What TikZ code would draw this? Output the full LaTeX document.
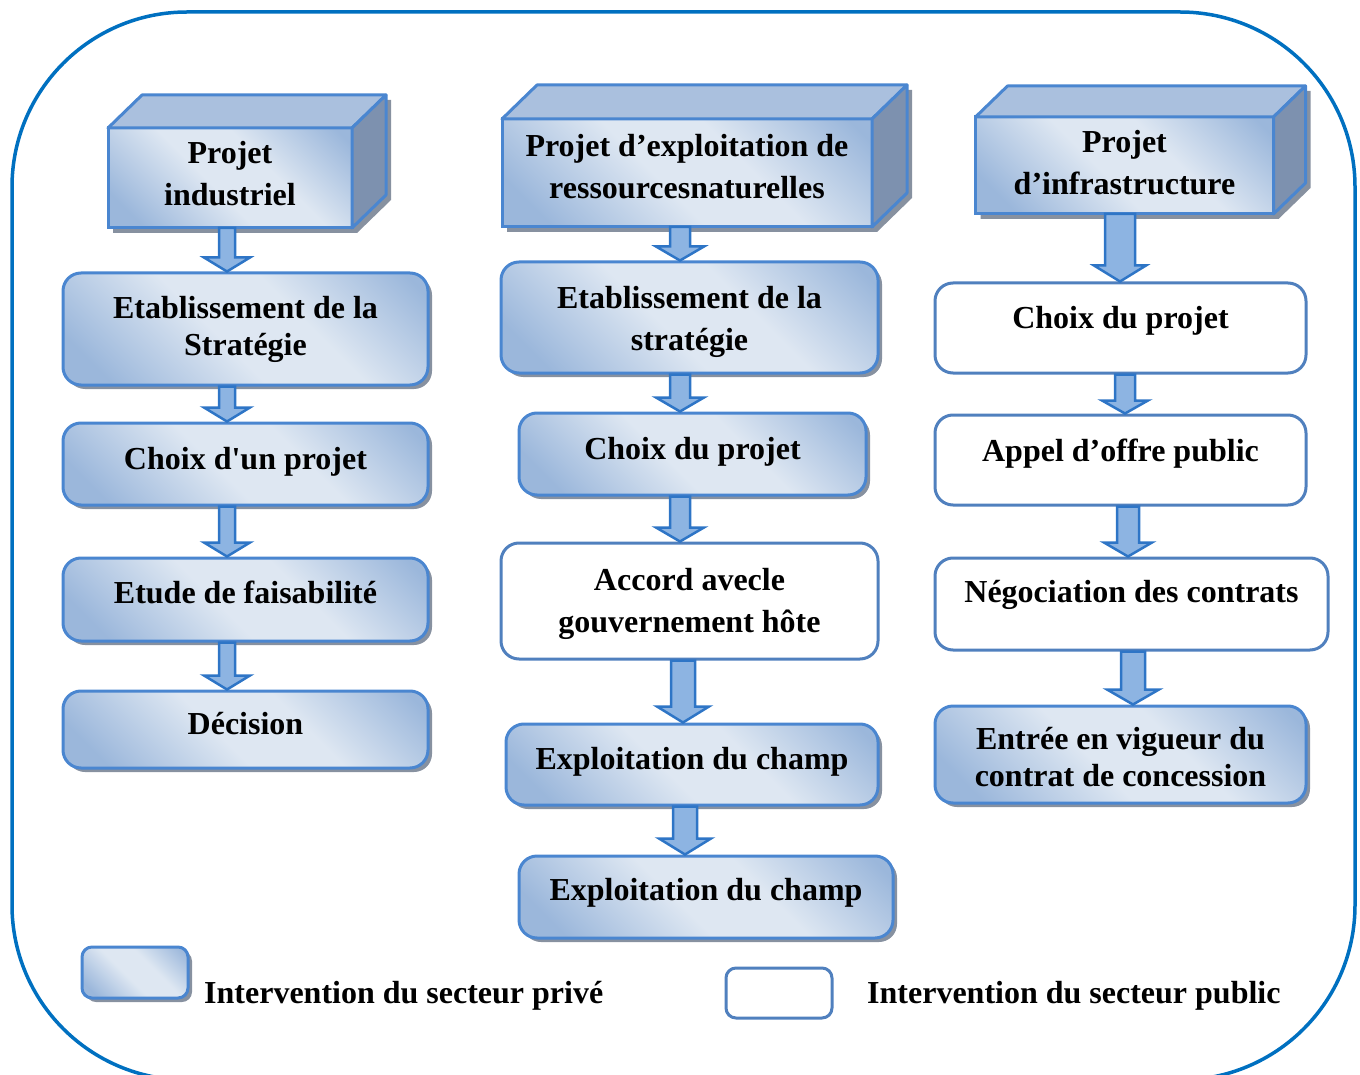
\documentclass[tikz,border=0pt]{standalone}
\usepackage{fontspec}
\setmainfont{Liberation Serif}[Ligatures=TeXOff]
\usetikzlibrary{calc,shadows,backgrounds}
\definecolor{frameblue}{RGB}{0,112,192}
\definecolor{bordblue}{RGB}{74,134,208}
\definecolor{whitebord}{RGB}{80,128,190}
\definecolor{arrowfill}{RGB}{141,180,226}
\definecolor{arrowdraw}{RGB}{46,117,198}
\definecolor{topface}{RGB}{170,192,222}
\definecolor{rightface}{RGB}{125,145,175}
\definecolor{shadowgray}{RGB}{135,145,160}
\definecolor{gdark}{RGB}{155,183,219}
\definecolor{glight}{RGB}{222,231,242}
\pgfdeclarehorizontalshading{glassy}{100bp}{color(0bp)=(gdark); color(22bp)=(gdark); color(45bp)=(glight); color(60bp)=(glight); color(82bp)=(gdark); color(100bp)=(gdark)}
\tikzset{
  txt/.style={font=\bfseries\fontsize{32}{42}\selectfont, align=center, text=black, inner sep=0pt},
  tighttxt/.style={font=\bfseries\fontsize{32}{37}\selectfont},
  privbox/.style={draw=bordblue, line width=3pt, rounded corners=18pt, shading=glassy, shading angle=45,
    drop shadow={shadow xshift=4pt, shadow yshift=-4pt, fill=shadowgray, opacity=1}, inner sep=0pt},
  pubbox/.style={draw=whitebord, line width=3pt, rounded corners=18pt, fill=white, inner sep=0pt},
  cubefront/.style={draw=bordblue, line width=3pt, shading=glassy, shading angle=45, inner sep=0pt, outer sep=0pt},
  cubetop/.style={fill=topface, draw=bordblue, line width=3pt, line join=round},
  cubeside/.style={fill=rightface, draw=bordblue, line width=3pt, line join=round},
  barrowst/.style={fill=arrowfill, draw=arrowdraw, line width=2.5pt, line join=miter},
  frame/.style={draw=frameblue, line width=3.5pt}
}
\newcommand\cubefaces[3]{%
  \filldraw[cubetop] (#1.north west) -- ++(#2,-#3) -- ($(#1.north east)+(#2,-#3)$) -- (#1.north east) -- cycle;
  \filldraw[cubeside] (#1.north east) -- ++(#2,-#3) -- ($(#1.south east)+(#2,-#3)$) -- (#1.south east) -- cycle;
  \begin{pgfonlayer}{background}
    \fill[shadowgray] ($(#1.north west)+(5,5)$) -- ($(#1.north west)+(#2+5,-#3+5)$) -- ($(#1.north east)+(#2+5,-#3+5)$)
      -- ($(#1.south east)+(#2+5,-#3+5)$) -- ($(#1.south east)+(5,5)$) -- ($(#1.south west)+(5,5)$) -- cycle;
  \end{pgfonlayer}
}
% text of a box: [extra style] box name, vertical offset (px, down positive), text
\newcommand\boxtext[4][]{\node[txt,#1] (#2-t) at ($(#2.center)+(0,#3)$) {#4};}
\newcommand\barrow[6]{%
  \draw[barrowst] let \p1=(#1.south), \p2=(#2.north) in
    (#3pt-#4pt,\y1) -- (#3pt+#4pt,\y1) -- (#3pt+#4pt,\y2+#6pt) -- (#3pt+#5pt,\y2+#6pt) -- (#3pt,\y2)
    -- (#3pt-#5pt,\y2+#6pt) -- (#3pt-#4pt,\y2+#6pt) -- cycle;}
\begin{document}
\begin{tikzpicture}[x=1pt,y=-1pt]
\useasboundingbox (0,0) rectangle (1360,1075);
\draw[frame, rounded corners=175pt] (12,12) rectangle (1355,1080);

% column 1
\node[cubefront, minimum width=244pt, minimum height=100pt] (c1) at (230,178) {};
\cubefaces{c1}{34}{33}
\boxtext{c1}{-4}{Projet\\industriel}
\node[privbox, minimum width=365pt, minimum height=112pt] (s1a) at (245.5,329) {};
\boxtext[tighttxt]{s1a}{0}{Etablissement de la\\Stratégie}
\node[privbox, minimum width=365pt, minimum height=82pt] (s1b) at (245.5,464) {};
\boxtext{s1b}{-2}{Choix d'un projet}
\node[privbox, minimum width=365pt, minimum height=83pt] (s1c) at (245.5,599.5) {};
\boxtext{s1c}{-7}{Etude de faisabilité}
\node[privbox, minimum width=365pt, minimum height=77pt] (s1d) at (245.5,729.5) {};
\boxtext{s1d}{-6}{Décision}

% column 2
\node[cubefront, minimum width=370pt, minimum height=108pt] (c2) at (687,173) {};
\cubefaces{c2}{35}{34}
\boxtext{c2}{-6}{Projet d’exploitation de\\ressourcesnaturelles}
\node[privbox, minimum width=377pt, minimum height=111pt] (s2a) at (689.5,317.5) {};
\boxtext{s2a}{4}{Etablissement de la\\stratégie}
\node[privbox, minimum width=347pt, minimum height=82pt] (s2b) at (692.5,454) {};
\boxtext{s2b}{-2}{Choix du projet}
\node[pubbox, minimum width=377pt, minimum height=116pt] (s2c) at (689.5,601) {};
\boxtext{s2c}{3}{Accord avecle\\gouvernement hôte}
\node[privbox, minimum width=372pt, minimum height=81pt] (s2d) at (692,764.5) {};
\boxtext{s2d}{-3}{Exploitation du champ}
\node[privbox, minimum width=374pt, minimum height=82pt] (s2e) at (706,897) {};
\boxtext{s2e}{-4}{Exploitation du champ}

% column 3
\node[cubefront, minimum width=298pt, minimum height=97pt] (c3) at (1124.5,165.5) {};
\cubefaces{c3}{32}{31}
\boxtext{c3}{-3}{Projet\\d’infrastructure}
\node[pubbox, minimum width=371pt, minimum height=90pt] (s3a) at (1120.5,328) {};
\boxtext{s3a}{-7}{Choix du projet}
\node[pubbox, minimum width=371pt, minimum height=90pt] (s3b) at (1120.5,460) {};
\boxtext{s3b}{-6}{Appel d’offre public}
\node[pubbox, minimum width=393pt, minimum height=92pt] (s3c) at (1131.5,604) {};
\boxtext{s3c}{-9}{Négociation des contrats}
\node[privbox, minimum width=371pt, minimum height=97pt] (s3d) at (1120.5,754.5) {};
\boxtext[tighttxt]{s3d}{3}{Entrée en vigueur du\\contrat de concession}

% arrows
\barrow{c1}{s1a}{227}{8}{23}{14}
\barrow{s1a}{s1b}{227}{8}{23}{14}
\barrow{s1b}{s1c}{227}{8}{23}{14}
\barrow{s1c}{s1d}{227}{8}{23}{14}
\barrow{c2}{s2a}{680}{10}{24}{14}
\barrow{s2a}{s2b}{680}{10}{24}{14}
\barrow{s2b}{s2c}{680}{10}{24}{14}
\barrow{s2c}{s2d}{683}{12}{26}{16}
\barrow{s2d}{s2e}{685}{12}{26}{16}
\barrow{c3}{s3a}{1120}{15}{26}{16}
\barrow{s3a}{s3b}{1125}{10}{23}{13}
\barrow{s3b}{s3c}{1128}{11}{24}{14}
\barrow{s3c}{s3d}{1133}{12}{26}{15}

% legend
\node[privbox, rounded corners=10pt, minimum width=106pt, minimum height=51pt] (legpriv) at (135,972.5) {};
\node[txt, anchor=west] (legprivtxt) at (204,996) {Intervention du secteur privé};
\node[pubbox, rounded corners=10pt, minimum width=106pt, minimum height=50pt] (legpub) at (779,993) {};
\node[txt, anchor=west] (legpubtxt) at (867,996) {Intervention du secteur public};
\end{tikzpicture}
\end{document}
